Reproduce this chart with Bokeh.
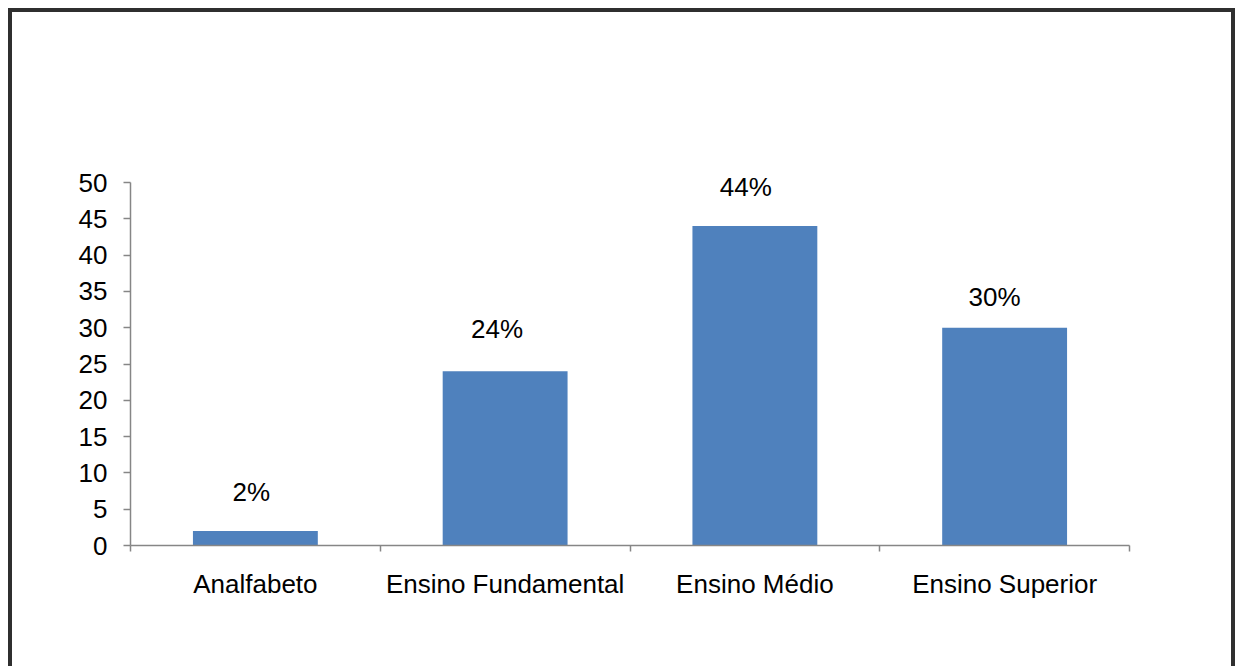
from bokeh.plotting import figure
from bokeh.models import Range1d, FixedTicker, ColumnDataSource, Label
from bokeh.embed import file_html
from bokeh.resources import INLINE

# Education level distribution
categories = ["Analfabeto", "Ensino Fundamental", "Ensino Médio", "Ensino Superior"]
values = [2, 24, 44, 30]
value_labels = ["2%", "24%", "44%", "30%"]
y_ticks = [0, 5, 10, 15, 20, 25, 30, 35, 40, 45, 50]

# hand-placed nudges for the value labels (screen pixels, up is positive)
label_dx = [-4, -8, -9, -10]
label_dy = [39, 42, 39, 31]

FONT = "Liberation Sans"
AXIS_GRAY = "#868686"
BAR_BLUE = "#4F81BD"
FRAME_COLOR = "#2f2f2f"

# vertical layout: the 0-50 axis is 363 px tall; the plotting frame gets an
# extra 36 px of headroom above it so the value labels are not clipped
AXIS_PX = 363
HEADROOM_PX = 36
y_top = y_ticks[-1] * (AXIS_PX + HEADROOM_PX) / AXIS_PX

# each category occupies one unit on the x scale; bars sit at the unit centres
centers = [i + 0.5 for i in range(len(categories))]
boundaries = list(range(len(categories) + 1))

source = ColumnDataSource(dict(x=centers, top=values))

# the dark frame (left, top, right) is an inset shadow on the plot element,
# visible through the transparent canvas border area
p = figure(
    width=1227, height=658,
    x_range=Range1d(0, len(categories)),
    y_range=Range1d(y_ticks[0], y_top),
    output_backend="svg", toolbar_location=None,
    min_border_left=122, min_border_right=106,
    min_border_top=174 - HEADROOM_PX, min_border_bottom=121,
    styles={
        "margin-left": "8px",
        "margin-top": "8px",
        "box-shadow": f"inset 4px 4px 0 0 {FRAME_COLOR}, inset -4px 0 0 0 {FRAME_COLOR}",
    },
)

p.vbar(x="x", top="top", width=0.5, source=source,
       fill_color=BAR_BLUE, line_color=None)

# value labels above the bars
for xc, val, txt, dx, dy in zip(centers, values, value_labels, label_dx, label_dy):
    p.add_layout(Label(x=xc, y=val, text=txt, x_offset=dx, y_offset=dy,
                       text_font=FONT, text_font_size="26px",
                       text_color="black", text_align="center",
                       text_baseline="alphabetic"))

# y axis, drawn only over 0-50
p.yaxis.ticker = FixedTicker(ticks=y_ticks)
p.yaxis.bounds = (y_ticks[0], y_ticks[-1])
p.yaxis.axis_line_color = AXIS_GRAY
p.yaxis.axis_line_width = 1.5
p.yaxis.major_tick_line_color = AXIS_GRAY
p.yaxis.major_tick_line_width = 1.5
p.yaxis.major_tick_in = 0
p.yaxis.major_tick_out = 7
p.yaxis.minor_tick_line_color = None
p.yaxis.major_label_text_font = FONT
p.yaxis.major_label_text_font_size = "26px"
p.yaxis.major_label_text_color = "black"
p.yaxis.major_label_standoff = 16

# x axis: labels at category centres, tick marks on category boundaries
p.xaxis.ticker = FixedTicker(ticks=centers, minor_ticks=boundaries)
p.xaxis.major_label_overrides = {c: name for c, name in zip(centers, categories)}
p.xaxis.axis_line_color = AXIS_GRAY
p.xaxis.axis_line_width = 1.5
p.xaxis.major_tick_line_color = None
p.xaxis.major_tick_in = 0
p.xaxis.major_tick_out = 0
p.xaxis.minor_tick_line_color = AXIS_GRAY
p.xaxis.minor_tick_line_width = 1.5
p.xaxis.minor_tick_in = 0
p.xaxis.minor_tick_out = 6
p.xaxis.major_label_text_font = FONT
p.xaxis.major_label_text_font_size = "26px"
p.xaxis.major_label_text_color = "black"
p.xaxis.major_label_standoff = 17

p.xgrid.visible = False
p.ygrid.visible = False
p.outline_line_color = None
p.background_fill_color = "white"
p.border_fill_color = None

open("out.html", "w").write(file_html(p, INLINE))
